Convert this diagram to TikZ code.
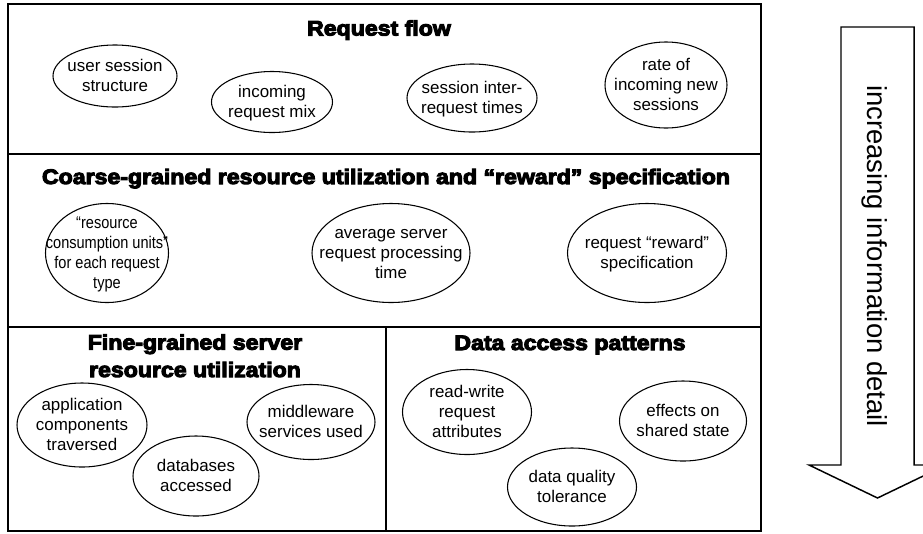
\documentclass[tikz,border=0pt]{standalone}
\usepackage{fontspec}
\setmainfont{Liberation Sans}
\newfontfamily\headfont{Liberation Sans Bold}[FakeStretch=1.1,FakeBold=5]
\newfontfamily\narrowfont{Liberation Sans}[FakeStretch=0.86]
\usepackage{tikz}
\usetikzlibrary{shapes.geometric}
% text that does not push the ellipse wider than its minimum size
\newcommand{\inell}[1]{\smash{\makebox[0pt]{\raisebox{-0.3em}{\begin{tabular}{@{}c@{}}#1\end{tabular}}}}}
\tikzset{
  frame/.style={line width=1.5pt},
  head/.style={font=\headfont\fontsize{15.75}{20.5}\selectfont, align=center, inner sep=0pt, anchor=base},
  field/.style={draw, ellipse, line width=0.8pt, inner sep=0pt, font=\fontsize{12.7}{15}\selectfont},
  tight/.style={font=\narrowfont\fontsize{12.7}{15}\selectfont},
  bigarrow/.style={line width=1.1pt, line join=miter},
  detail/.style={font=\fontsize{20.6}{24}\selectfont, rotate=-90, inner sep=0pt}
}

\begin{document}
\begin{tikzpicture}[x=0.75pt, y=-0.75pt]
\useasboundingbox (0,0) rectangle (923,533);
\clip (0,0) rectangle (923,533);

% layers of the workload model
\draw[frame] (8,4) rectangle (761,531);
\draw[frame] (8,154) -- (761,154);
\draw[frame] (8,327) -- (761,327);
\draw[frame] (386,327) -- (386,531);

\node[head] (flow) at (379,35.5) {Request flow};
\node[head] (coarse) at (386,184) {Coarse-grained resource utilization and “reward” specification};
\node[head] (fine) at (195,377) {Fine-grained server\\resource utilization};
\node[head] (data) at (570,350) {Data access patterns};

% request flow
\node[field, minimum width=93pt, minimum height=46.5pt] (sess) at (115,76) {\inell{user session\\structure}};
\node[field, minimum width=90.75pt, minimum height=45.75pt] (mix) at (272,102) {\inell{incoming\\request mix}};
\node[field, minimum width=97.5pt, minimum height=51pt] (inter) at (472,98) {\inell{session inter-\\request times}};
\node[field, minimum width=91.5pt, minimum height=64.5pt] (rate) at (666,85) {\inell{rate of\\incoming new\\sessions}};

% coarse-grained
\node[field, tight, minimum width=92.25pt, minimum height=74.25pt] (units) at (107,253) {\inell{“resource\\consumption units”\\for each request\\type}};
\node[field, minimum width=118.5pt, minimum height=74.25pt] (proc) at (391,253) {\inell{average server\\request processing\\time}};
\node[field, minimum width=119.25pt, minimum height=74.25pt] (reward) at (647,253) {\inell{request “reward”\\specification}};

% fine-grained
\node[field, minimum width=97.5pt, minimum height=63pt] (comp) at (82,425) {\inell{application\\components\\traversed}};
\node[field, minimum width=94.5pt, minimum height=60pt] (dbs) at (196,476) {\inell{databases\\accessed}};
\node[field, minimum width=96pt, minimum height=56.25pt] (mw) at (311,422) {\inell{middleware\\services used}};

% data access
\node[field, minimum width=96.75pt, minimum height=63.75pt] (rw) at (467,412) {\inell{read-write\\request\\attributes}};
\node[field, minimum width=95.25pt, minimum height=60pt] (shared) at (683,421) {\inell{effects on\\shared state}};
\node[field, minimum width=96.75pt, minimum height=58.5pt] (quality) at (572,487) {\inell{data quality\\tolerance}};

% detail arrow
\draw[bigarrow] (841,27) -- (841,465) -- (809,465) -- (877.5,498) -- (946,465) -- (914,465) -- (914,27) -- cycle;
\node[detail] (more) at (875,256) {increasing information detail};
\end{tikzpicture}
\end{document}
